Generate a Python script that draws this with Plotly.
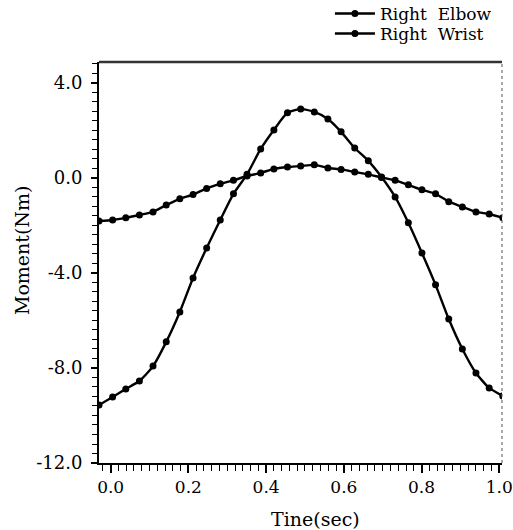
import plotly.graph_objects as go

# Time samples (sec)
time_s = [-0.030, 0.005, 0.039, 0.074, 0.109, 0.143, 0.178, 0.212, 0.247, 0.282,
          0.316, 0.351, 0.386, 0.420, 0.455, 0.489, 0.524, 0.559, 0.593, 0.628,
          0.663, 0.697, 0.732, 0.766, 0.801, 0.836, 0.870, 0.905, 0.940, 0.974, 1.009]

# Moment (Nm)
right_elbow = [-9.56, -9.22, -8.88, -8.55, -7.92, -6.90, -5.64, -4.21, -2.95, -1.77,
               -0.67, 0.15, 1.22, 2.02, 2.74, 2.90, 2.78, 2.48, 1.94, 1.26,
               0.72, 0.04, -0.80, -1.89, -3.16, -4.50, -5.94, -7.20, -8.21, -8.84, -9.18]

right_wrist = [-1.81, -1.77, -1.68, -1.56, -1.43, -1.14, -0.88, -0.70, -0.44, -0.25,
               -0.10, 0.08, 0.21, 0.38, 0.46, 0.50, 0.55, 0.42, 0.36, 0.25,
               0.15, 0.02, -0.10, -0.29, -0.50, -0.67, -1.00, -1.22, -1.43, -1.52, -1.68]

series_names = ["Right  Elbow", "Right  Wrist"]

y_tickvals = [-12, -8, -4, 0, 4]
y_ticktext = ["-12.0", "-8.0", "-4.0", "0.0", "4.0"]
x_tickvals = [0.0, 0.2, 0.4, 0.6, 0.8, 1.0]
x_ticktext = ["0.0", "0.2", "0.4", "0.6", "0.8", "1.0"]

FONT = "DejaVu Serif"

fig = go.Figure()
legend_ids = ["legend", "legend2"]
for name, vals, lg in zip(series_names, [right_elbow, right_wrist], legend_ids):
    fig.add_trace(go.Scatter(
        x=time_s, y=vals, name=name, mode="lines+markers", legend=lg,
        line=dict(color="black", width=2.4, shape="spline", smoothing=0.6),
        marker=dict(color="black", size=7, symbol="circle"),
    ))

legend_common = dict(x=0.573, xanchor="left", yanchor="middle",
                     font=dict(family=FONT, size=17, color="black"),
                     itemwidth=40, bgcolor="rgba(0,0,0,0)", borderwidth=0)

fig.update_layout(
    width=513, height=530,
    margin=dict(l=99, r=11, t=62, b=67, autoexpand=False),
    paper_bgcolor="white", plot_bgcolor="white",
    font=dict(family=FONT, size=18, color="black"),
    showlegend=True,
    hovermode=False,
    legend=dict(y=1.1197, **legend_common),
    legend2=dict(y=1.0698, **legend_common),
    xaxis=dict(
        range=[-0.03, 1.007], tickvals=x_tickvals, ticktext=x_ticktext,
        showgrid=False, zeroline=False, showline=True, linecolor="black",
        linewidth=2, mirror=False, ticks="outside", ticklen=8, tickwidth=1.5,
        tickcolor="black", ticklabelstandoff=0, automargin=False,
        minor=dict(dtick=0.02, ticks="outside", ticklen=6, tickwidth=1,
                   tickcolor="black"),
        tickfont=dict(family=FONT, size=17, color="black"),
    ),
    yaxis=dict(
        range=[-12, 4.88], tickvals=y_tickvals, ticktext=y_ticktext,
        showgrid=False, zeroline=False, showline=True, linecolor="black",
        linewidth=2, mirror=False, ticks="outside", ticklen=6, tickwidth=1.5,
        tickcolor="black", ticklabelstandoff=5, automargin=False,
        minor=dict(dtick=0.4, ticks="outside", ticklen=5, tickwidth=1,
                   tickcolor="black"),
        tickfont=dict(family=FONT, size=18, color="black"),
    ),
    annotations=[
        dict(text="Tine(sec)", xref="paper", yref="paper", x=0.538, y=0,
             yshift=-56, showarrow=False, yanchor="middle",
             font=dict(family=FONT, size=19, color="black")),
        dict(text="Moment(Nm)", xref="paper", yref="paper", x=0, y=0.531,
             xshift=-77, showarrow=False, textangle=-90, xanchor="center",
             font=dict(family=FONT, size=19, color="black")),
    ],
    shapes=[
        dict(type="line", xref="paper", yref="paper", x0=0, x1=1, y0=1, y1=1,
             line=dict(color="#333333", width=2.5)),
        dict(type="line", xref="paper", yref="paper", x0=1, x1=1, y0=0, y1=1,
             line=dict(color="#555555", width=1, dash="dot")),
    ],
)

fig.write_html("out.html", config={"displayModeBar": False},
               post_script="document.body.style.margin='0px';")
